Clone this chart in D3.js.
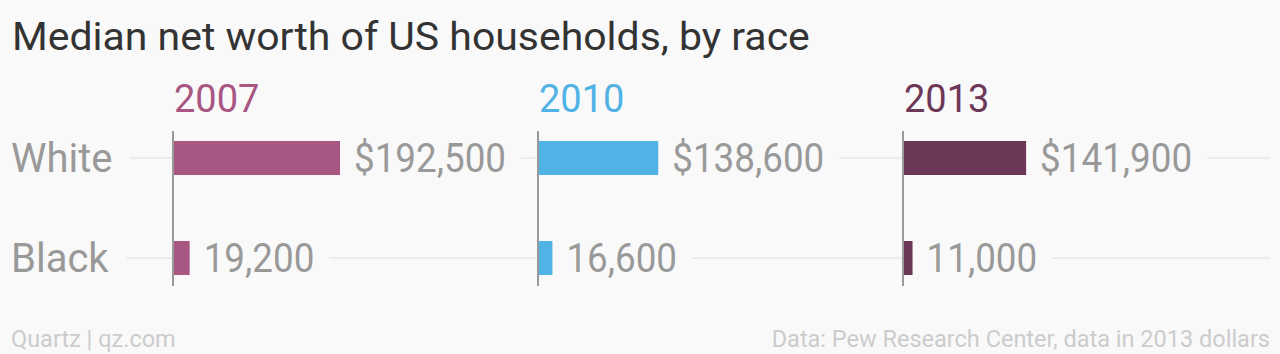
<!DOCTYPE html>
<html>
<head>
<meta charset="utf-8">
<script src="https://cdn.jsdelivr.net/npm/d3@7"></script>
<style>
  html, body { margin: 0; padding: 0; background: #f9f9f9; }
  svg { display: block; }
  text { font-family: Roboto, "Liberation Sans", sans-serif; }
</style>
</head>
<body>
<svg id="chart" width="1280" height="354"></svg>
<script>
// ---- data ----
const title = "Median net worth of US households, by race";
const years = ["2007", "2010", "2013"];
const races = ["White", "Black"];
const white = [192500, 138600, 141900];
const black = [19200, 16600, 11000];
const yearColors = ["#a85682", "#51b2e5", "#6d3858"];
const footerLeft = "Quartz | qz.com";
const footerRight = "Data: Pew Research Center, data in 2013 dollars";

// ---- layout ----
const W = 1280, H = 354, bg = "#f9f9f9";
const svg = d3.select("#chart");
svg.append("rect").attr("width", W).attr("height", H).attr("fill", bg);

const panelX = d3.scaleBand().domain(years).range([173, 173 + 365 * 3]).paddingInner(0).paddingOuter(0);
const x = d3.scaleLinear().domain([0, 192500]).range([0, 167]);
const y = d3.scalePoint().domain(races).range([158, 258]);
const barH = 34;

const fmt = d3.format(",");
const values = { White: white, Black: black };

function squeeze(sel, k) {
  sel.each(function () {
    const w = this.getComputedTextLength();
    d3.select(this).attr("textLength", w * k).attr("lengthAdjust", "spacingAndGlyphs");
  });
}

// gridlines
const grid = svg.append("g");
races.forEach(r => {
  grid.append("line")
    .attr("x1", 10).attr("x2", 1270)
    .attr("y1", y(r)).attr("y2", y(r))
    .attr("stroke", "#ececec").attr("stroke-width", 2);
});

const labelLayer = svg.append("g");

// title
const t = svg.append("text")
  .attr("x", 12).attr("y", 50)
  .attr("font-size", 39).attr("fill", "#333")
  .text(title);
squeeze(t, 1.05);

// category labels with background
races.forEach(r => {
  const tx = labelLayer.append("text")
    .attr("x", 11).attr("y", y(r) + 14)
    .attr("font-size", 40).attr("fill", "#999")
    .text(r);
  const bb = tx.node().getBBox();
  labelLayer.insert("rect", "text")
    .attr("x", 0).attr("y", y(r) - 4)
    .attr("width", bb.x + bb.width + 17).attr("height", 8)
    .attr("fill", bg);
});

// panels
years.forEach((yr, i) => {
  const g = svg.append("g").attr("transform", `translate(${panelX(yr)},0)`);
  g.append("text")
    .attr("x", 1).attr("y", 112)
    .attr("font-size", 38).attr("fill", yearColors[i])
    .text(yr);

  races.forEach((r, j) => {
    const v = values[r][i];
    const lbl = (j === 0 ? "$" : "") + fmt(v);
    const tx = g.append("text")
      .attr("x", x(v) + 14).attr("y", y(r) + 14)
      .attr("font-size", 40).attr("fill", "#999")
      .text(lbl);
    squeeze(tx, 0.92);
    const bb = tx.node().getBBox();
    g.insert("rect", ":first-child")
      .attr("x", x(v)).attr("y", y(r) - 4)
      .attr("width", bb.x + bb.width + 15 - x(v)).attr("height", 8)
      .attr("fill", bg);
    g.append("rect")
      .attr("x", x(0)).attr("y", y(r) - barH / 2)
      .attr("width", x(v) - x(0)).attr("height", barH)
      .attr("fill", yearColors[i]);
  });

  g.append("line")
    .attr("x1", x(0)).attr("x2", x(0))
    .attr("y1", 131).attr("y2", 286)
    .attr("stroke", "#999").attr("stroke-width", 2);
});

// footer
svg.append("text")
  .attr("x", 11).attr("y", 347)
  .attr("font-size", 23.5).attr("fill", "#ccc")
  .text(footerLeft);
svg.append("text")
  .attr("x", 1270).attr("y", 347)
  .attr("text-anchor", "end")
  .attr("font-size", 23.5).attr("fill", "#ccc")
  .text(footerRight);
</script>
</body>
</html>
